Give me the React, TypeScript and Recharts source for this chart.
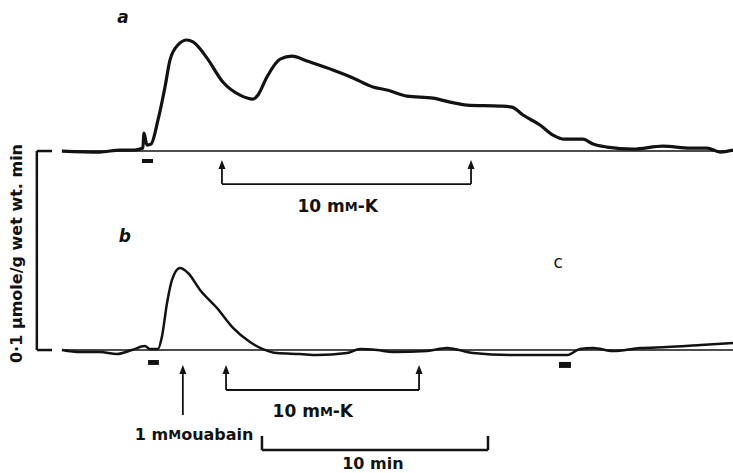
import React from "react";
import {
  ComposedChart,
  Line,
  XAxis,
  YAxis,
  ReferenceLine,
  ReferenceDot,
  ReferenceArea,
} from "recharts";

// time in min from start of recording, rate in µmole/g wet wt. min
const traceATime = [
  0, 1.68, 2.57, 3.23, 3.58, 3.63, 3.76, 3.94, 4.25, 4.56, 4.78, 5.13, 5.53,
  5.8, 6.42, 7.12, 7.88, 8.45, 8.67, 9.07, 9.65, 10.18, 10.84, 11.99, 12.88,
  13.76, 14.38, 15.27, 16.42, 17.17, 17.92, 19.38, 19.91, 20.4, 21.15, 21.73,
  22.17, 23.05, 23.5, 24.12, 25.27, 26.59, 27.79, 28.54, 29.12, 29.69,
];
const traceARate = [
  0, -0.0005, 0.0005, 0.0005, 0.0015, 0.009, 0.003, 0.0035, 0.0156, 0.0322,
  0.0457, 0.0533, 0.0558, 0.0548, 0.0467, 0.0347, 0.0281, 0.0261, 0.0281,
  0.0372, 0.0462, 0.0477, 0.0452, 0.0407, 0.0367, 0.0322, 0.0307, 0.0276,
  0.0266, 0.0246, 0.0231, 0.0226, 0.0221, 0.0181, 0.0131, 0.008, 0.006, 0.006,
  0.0035, 0.002, 0.001, 0.0025, 0.0015, 0.0015, -0.0005, 0.0005,
];
const traceBTime = [
  0, 0.8, 1.68, 2.43, 3.1, 3.67, 3.89, 4.25, 4.42, 4.65, 4.87, 5.22, 5.58,
  6.11, 6.86, 7.57, 8.32, 8.89, 9.51, 10.53, 11.28, 12.61, 13.19, 13.94,
  14.65, 16.15, 17.04, 18.19, 19.96, 21.46, 22.35, 22.92, 23.5, 24.38, 25.58,
  26.77, 28.23, 29.69,
];
const traceBRate = [
  0, -0.001, -0.001, -0.002, 0, 0.002, 0.0005, 0.0005, 0.0065, 0.0236, 0.0352,
  0.0412, 0.0387, 0.0302, 0.0211, 0.0111, 0.004, 0.0005, -0.0015, -0.002,
  -0.0025, -0.0015, 0.0005, 0, -0.001, -0.0005, 0.001, -0.0015, -0.0025,
  -0.0025, -0.0025, 0.0005, 0.001, -0.0005, 0.001, 0.0015, 0.0025, 0.0035,
];

// K-rich solution: start / end of exposure (min)
const kPeriodA = [7.08, 18.1];
const kPeriodB = [7.26, 15.8];
const ouabainTime = 5.35;
// short stimulus bars under the traces
const stimulusA = [3.54, 4.03];
const stimulusB = [3.81, 4.29];
const stimulusC = [21.99, 22.52];
const timeBar = [8.85, 18.85];

const dataA = traceATime.map((t, i) => ({ t, v: traceARate[i] }));
const dataB = traceBTime.map((t, i) => ({ t, v: traceBRate[i] }));

const INK = "#121212";
const FONT = "'DejaVu Sans', sans-serif";

const arrowHead = (props: any) => (
  <path
    d={`M${props.cx},${props.cy} L${props.cx - 3.5},${props.cy + 9} L${props.cx + 3.5},${props.cy + 9} Z`}
    fill={INK}
  />
);

const textAt =
  (content: React.ReactNode, extra: any = {}) =>
  (props: any) => (
    <text
      x={props.cx}
      y={props.cy}
      fill={INK}
      fontFamily={FONT}
      fontWeight="bold"
      fontSize={16}
      textAnchor="middle"
      dominantBaseline="middle"
      {...extra}
    >
      {content}
    </text>
  );

const mmK = (
  <>
    <tspan>10 m</tspan>
    <tspan fontSize={13}>M</tspan>
    <tspan>-K</tspan>
  </>
);

const seg = (key: string, axis: string, x1: number, y1: number, x2: number, y2: number, w = 2) => (
  <ReferenceLine
    key={key}
    yAxisId={axis}
    segment={[
      { x: x1, y: y1 },
      { x: x2, y: y2 },
    ]}
    stroke={INK}
    strokeWidth={w}
    ifOverflow="visible"
  />
);

export default function App() {
  return (
    <div style={{ position: "absolute", left: 0, top: 0, background: "#fff" }}>
      <ComposedChart
        width={733}
        height={473}
        margin={{ top: 0, right: 0, bottom: 0, left: 0 }}
      >
        <XAxis type="number" dataKey="t" domain={[-2.74, 29.69]} hide allowDataOverflow />
        <YAxis yAxisId="a" type="number" domain={[-0.1618, 0.0759]} hide allowDataOverflow />
        <YAxis yAxisId="b" type="number" domain={[-0.0618, 0.1759]} hide allowDataOverflow />

        {/* baselines */}
        {seg("baseA", "a", 0, 0, 29.69, 0, 1.5)}
        {seg("baseB", "b", 0, 0, 29.69, 0, 1.5)}

        {/* calibration bar 0.1 µmole */}
        {seg("calV", "a", -1.11, 0, -1.11, -0.1, 2.5)}
        {seg("calT", "a", -1.11, 0, -0.44, 0, 2.5)}
        {seg("calB", "a", -1.11, -0.1, -0.44, -0.1, 2.5)}
        <ReferenceDot
          yAxisId="a"
          x={-1.95}
          y={-0.0515}
          ifOverflow="visible"
          shape={(p: any) => (
            <text
              x={p.cx}
              y={p.cy}
              fill={INK}
              fontFamily={FONT}
              fontWeight="bold"
              fontSize={16}
              textAnchor="middle"
              dominantBaseline="middle"
              transform={`rotate(-90, ${p.cx}, ${p.cy})`}
            >
              0·1 μmole/g wet wt. min
            </text>
          )}
        />

        {/* stimulus markers */}
        <ReferenceArea yAxisId="a" x1={stimulusA[0]} x2={stimulusA[1]} y1={-0.004} y2={-0.006} fill={INK} fillOpacity={1} ifOverflow="visible" />
        <ReferenceArea yAxisId="b" x1={stimulusB[0]} x2={stimulusB[1]} y1={-0.005} y2={-0.0075} fill={INK} fillOpacity={1} ifOverflow="visible" />
        <ReferenceArea yAxisId="b" x1={stimulusC[0]} x2={stimulusC[1]} y1={-0.006} y2={-0.009} fill={INK} fillOpacity={1} ifOverflow="visible" />

        {/* K bracket trace a */}
        {seg("kA1", "a", kPeriodA[0], -0.006, kPeriodA[0], -0.0166, 1.8)}
        {seg("kA2", "a", kPeriodA[1], -0.006, kPeriodA[1], -0.0166, 1.8)}
        {seg("kA3", "a", kPeriodA[0], -0.0166, kPeriodA[1], -0.0166, 1.8)}
        <ReferenceDot yAxisId="a" x={kPeriodA[0]} y={-0.0045} shape={arrowHead} ifOverflow="visible" />
        <ReferenceDot yAxisId="a" x={kPeriodA[1]} y={-0.0045} shape={arrowHead} ifOverflow="visible" />
        <ReferenceDot yAxisId="a" x={12.2} y={-0.0283} shape={textAt(mmK, { fontSize: 17 })} ifOverflow="visible" />

        {/* K bracket trace b */}
        {seg("kB1", "b", kPeriodB[0], -0.0095, kPeriodB[0], -0.0201, 1.8)}
        {seg("kB2", "b", kPeriodB[1], -0.0095, kPeriodB[1], -0.0201, 1.8)}
        {seg("kB3", "b", kPeriodB[0], -0.0201, kPeriodB[1], -0.0201, 1.8)}
        <ReferenceDot yAxisId="b" x={kPeriodB[0]} y={-0.0075} shape={arrowHead} ifOverflow="visible" />
        <ReferenceDot yAxisId="b" x={kPeriodB[1]} y={-0.0075} shape={arrowHead} ifOverflow="visible" />
        <ReferenceDot yAxisId="b" x={11.1} y={-0.031} shape={textAt(mmK, { fontSize: 17 })} ifOverflow="visible" />

        {/* ouabain */}
        {seg("ouab", "b", ouabainTime, -0.0095, ouabainTime, -0.0327, 1.8)}
        <ReferenceDot yAxisId="b" x={ouabainTime} y={-0.0075} shape={arrowHead} ifOverflow="visible" />
        <ReferenceDot
          yAxisId="b"
          x={5.85}
          y={-0.0427}
          ifOverflow="visible"
          shape={textAt(
            <>
              <tspan>1 m</tspan>
              <tspan fontSize={13}>M</tspan>
              <tspan>ouabain</tspan>
            </>
          )}
        />

        {/* time bar */}
        {seg("tb1", "b", timeBar[0], -0.0432, timeBar[0], -0.0503, 2.5)}
        {seg("tb2", "b", timeBar[1], -0.0432, timeBar[1], -0.0503, 2.5)}
        {seg("tb3", "b", timeBar[0], -0.0503, timeBar[1], -0.0503, 2.5)}
        <ReferenceDot yAxisId="b" x={13.76} y={-0.0577} shape={textAt("10 min")} ifOverflow="visible" />

        {/* panel letters */}
        <ReferenceDot yAxisId="a" x={2.7} y={0.0668} ifOverflow="visible"
          shape={textAt("a", { fontStyle: "italic", fontSize: 17 })} />
        <ReferenceDot yAxisId="b" x={2.78} y={0.0568} ifOverflow="visible"
          shape={textAt("b", { fontStyle: "italic", fontSize: 17 })} />
        <ReferenceDot yAxisId="b" x={21.96} y={0.0437} ifOverflow="visible"
          shape={textAt("c", { fontWeight: "normal", fontSize: 17 })} />

        <Line
          yAxisId="a"
          data={dataA}
          dataKey="v"
          type="monotone"
          stroke={INK}
          strokeWidth={3.2}
          strokeLinecap="butt"
          dot={false}
          activeDot={false}
          isAnimationActive={false}
        />
        <Line
          yAxisId="b"
          data={dataB}
          dataKey="v"
          type="monotone"
          stroke={INK}
          strokeWidth={2.5}
          strokeLinecap="butt"
          dot={false}
          activeDot={false}
          isAnimationActive={false}
        />
      </ComposedChart>
    </div>
  );
}
